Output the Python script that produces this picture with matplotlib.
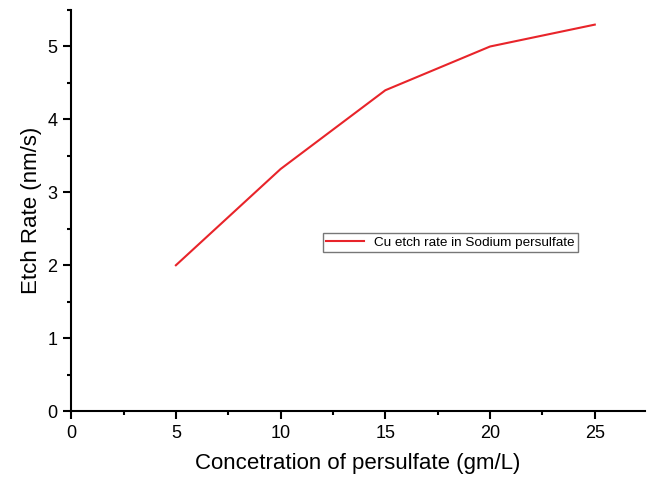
import matplotlib
matplotlib.use("Agg")
import matplotlib.pyplot as plt
from matplotlib.ticker import MultipleLocator

plt.rcParams['font.family'] = ['Liberation Sans', 'DejaVu Sans']

conc = [5, 10, 15, 20, 25]
etch_rate = [2.0, 3.32, 4.4, 5.0, 5.3]

fig = plt.figure(figsize=(6.47, 4.78), dpi=100)
ax = fig.add_axes([0.110, 0.140, 0.887, 0.839])

ax.plot(conc, etch_rate, color='#e8242a', lw=1.5, label='Cu etch rate in Sodium persulfate')

ax.set_xlim(0, 27.4)
ax.set_ylim(0, 5.5)
ax.xaxis.set_major_locator(MultipleLocator(5))
ax.xaxis.set_minor_locator(MultipleLocator(2.5))
ax.yaxis.set_major_locator(MultipleLocator(1))
ax.yaxis.set_minor_locator(MultipleLocator(0.5))

ax.spines['top'].set_visible(False)
ax.spines['right'].set_visible(False)
for s in ('left', 'bottom'):
    ax.spines[s].set_linewidth(1.5)
ax.tick_params(which='major', direction='out', length=6, width=1.5, labelsize=13, pad=4)
ax.tick_params(which='minor', direction='out', length=3, width=1.5)

ax.set_xlabel('Concetration of persulfate (gm/L)', fontsize=16, labelpad=8)
ax.set_ylabel('Etch Rate (nm/s)', fontsize=16)

leg = ax.legend(loc='center left', bbox_to_anchor=(0.438, 0.42), fontsize=9.7,
                frameon=True, fancybox=False, edgecolor='#555555',
                handlelength=2.8, borderpad=0.25, borderaxespad=0)
leg.get_frame().set_linewidth(1.0)

fig.savefig('out.png', dpi=100)
